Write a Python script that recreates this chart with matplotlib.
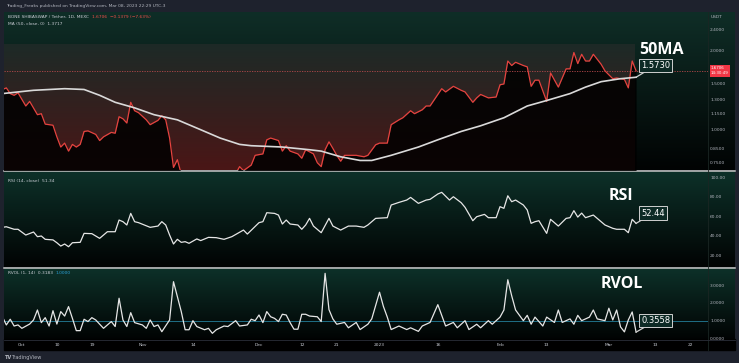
import numpy as np
import pandas as pd
import matplotlib
matplotlib.use("Agg")
import matplotlib.pyplot as plt
from matplotlib.colors import LinearSegmentedColormap
from matplotlib.patches import Rectangle
from matplotlib.ticker import NullLocator

W, H = 739, 363
base = pd.Timestamp("2022-10-01")

# price (close), day offsets from 2022-10-01
price_day = [-5, -4, -3, -2, -1, 1, 2, 4, 5, 6, 8, 9, 10, 11, 12, 13, 14, 15, 16, 17,
             19, 20, 21, 23, 24, 25, 26, 27, 28, 29, 30, 32, 33, 35, 36, 37, 38, 39, 40, 41,
             43, 46, 49, 52, 54, 56, 57, 59, 60, 62, 63, 64, 66, 67, 68, 69, 71, 72, 73, 75,
             76, 77, 78, 79, 80, 81, 82, 83, 85, 86, 88, 89, 91, 92, 94, 95, 97, 98, 100, 101,
             103, 104, 105, 107, 108, 109, 111, 113, 114, 116, 117, 118, 120, 122, 123, 124,
             125, 126, 127, 129, 130, 131, 132, 133, 135, 136, 138, 140, 141, 142, 143, 144,
             145, 146, 147, 149, 150, 152, 153, 155, 156, 157, 158]
price = [1.42, 1.44, 1.37, 1.35, 1.38, 1.23, 1.28, 1.14, 1.15, 1.05, 1.04, 0.94, 0.86, 0.89,
         0.83, 0.88, 0.86, 0.88, 0.985, 0.99, 0.96, 0.91, 0.94, 0.977, 0.97, 1.12, 1.10, 1.06,
         1.27, 1.18, 1.16, 1.09, 1.045, 1.085, 1.13, 1.09, 0.93, 0.72, 0.77, 0.68, 0.63, 0.60,
         0.62, 0.58, 0.64, 0.725, 0.70, 0.735, 0.80, 0.81, 0.916, 0.93, 0.91, 0.83, 0.87, 0.83,
         0.81, 0.78, 0.84, 0.81, 0.75, 0.725, 0.84, 0.90, 0.85, 0.80, 0.76, 0.80, 0.80, 0.80,
         0.79, 0.80, 0.877, 0.89, 0.89, 1.045, 1.09, 1.11, 1.18, 1.15, 1.19, 1.23, 1.23, 1.36,
         1.43, 1.39, 1.46, 1.41, 1.39, 1.27, 1.32, 1.36, 1.32, 1.33, 1.48, 1.49, 1.82, 1.75,
         1.80, 1.75, 1.73, 1.46, 1.54, 1.54, 1.28, 1.64, 1.45, 1.70, 1.70, 1.96, 1.78, 1.93,
         1.82, 1.82, 1.93, 1.77, 1.67, 1.56, 1.57, 1.55, 1.44, 1.82, 1.6706]

# 50 day moving average
ma_day = [-5, -1, 3, 11, 16, 20, 24, 29, 34, 40, 46, 51, 56, 59, 67, 74, 77, 82, 87, 90,
          95, 102, 107, 113, 118, 124, 130, 135, 141, 145, 149, 154, 158]
ma50 = [1.37, 1.39, 1.41, 1.43, 1.42, 1.35, 1.27, 1.21, 1.14, 1.09, 1.00, 0.93, 0.88, 0.87,
        0.86, 0.84, 0.83, 0.79, 0.765, 0.765, 0.80, 0.86, 0.916, 0.985, 1.035, 1.11, 1.23,
        1.29, 1.37, 1.45, 1.52, 1.56, 1.58]

# RSI (14)
rsi_day = [-5, -4, -2, -1, 1, 3, 4, 5, 6, 8, 9, 10, 11, 12, 13, 15, 16, 18, 20, 22, 24, 25,
           26, 27, 28, 29, 30, 33, 35, 36, 37, 38, 39, 40, 41, 42, 43, 45, 46, 48, 50, 52, 54,
           57, 58, 61, 62, 63, 65, 66, 67, 68, 69, 71, 72, 73, 74, 75, 77, 79, 80, 82, 84, 86,
           88, 89, 91, 94, 95, 97, 99, 100, 102, 104, 105, 107, 108, 110, 111, 113, 114, 116,
           117, 119, 120, 122, 123, 124, 125, 126, 127, 129, 130, 131, 132, 133, 135, 136, 138,
           140, 141, 142, 143, 144, 145, 147, 149, 150, 152, 153, 155, 156, 157, 158]
rsi = [48.4, 49, 46.4, 46.4, 40.5, 43.6, 38.8, 39.5, 36.1, 35.5, 32.6, 29.2, 31.3, 28.5, 32.6,
       33, 42.2, 41.9, 37.1, 43.9, 43.9, 55.9, 54.2, 50.8, 62.7, 54.2, 53.2, 48.4, 49.7, 54.2,
       50.8, 40.5, 31.3, 36.1, 33, 33.7, 32, 36.5, 34.8, 38.1, 37.8, 36.1, 38.8, 45.6, 41.5,
       53.2, 54.2, 63.4, 62.7, 61, 51.8, 55.9, 51.8, 50.8, 46.4, 50.8, 57.6, 49.7, 42.9, 57.6,
       49.7, 45.6, 49.7, 49.7, 48.4, 50.8, 57.6, 58.3, 71.3, 74, 76.4, 79.1, 73, 76.4, 77.1,
       82.6, 84.3, 76.4, 79.8, 73.7, 68.9, 55.2, 59.3, 61.7, 58.3, 58.3, 69.6, 67.9, 80.8,
       74.7, 76.4, 71.3, 66.2, 52.5, 54.2, 55.2, 42.2, 56.6, 49.7, 57.6, 58.3, 65.5, 58.9, 63,
       58.3, 61, 54.2, 50.8, 47.4, 46.4, 46.4, 42.9, 56.6, 52.44]

# relative volume
rvol_day = [-5, -4, -3, -2, -1, 0, 2, 3, 4, 5, 6, 7, 8, 9, 10, 11, 12, 13, 14, 15, 16, 17, 18,
            19, 21, 23, 24, 25, 26, 27, 28, 29, 31, 32, 33, 34, 35, 36, 38, 39, 40, 41, 42, 43,
            44, 45, 47, 48, 49, 50, 52, 53, 55, 56, 58, 59, 60, 61, 62, 63, 64, 65, 66, 67, 68,
            69, 70, 71, 72, 73, 74, 76, 77, 78, 79, 80, 81, 83, 84, 86, 87, 89, 90, 92, 93, 94,
            95, 97, 99, 100, 102, 103, 105, 107, 108, 109, 111, 112, 114, 115, 117, 118, 120,
            121, 123, 124, 125, 126, 127, 129, 130, 131, 132, 134, 135, 137, 138, 139, 141,
            142, 143, 144, 146, 147, 148, 150, 151, 152, 153, 154, 155, 156, 157, 158]
rvol = [1.22, 0.76, 1.08, 0.70, 0.76, 0.57, 0.81, 1.04, 1.60, 0.89, 1.17, 0.70, 1.56, 0.81,
        1.51, 1.26, 1.79, 1.13, 0.44, 0.44, 1.08, 0.95, 1.17, 1.04, 0.57, 0.95, 0.67, 2.26,
        1.04, 0.67, 1.45, 0.89, 0.76, 0.57, 1.04, 0.67, 0.76, 0.38, 1.04, 3.19, 2.35, 1.51,
        0.49, 0.49, 1.0, 0.67, 0.49, 0.57, 0.29, 0.49, 0.70, 0.67, 1.0, 0.70, 0.76, 1.08, 1.0,
        1.32, 0.89, 1.51, 1.22, 1.13, 0.95, 1.36, 1.32, 0.89, 0.52, 0.52, 1.36, 1.36, 1.26,
        1.22, 0.95, 3.66, 1.62, 1.1, 0.8, 0.9, 0.6, 0.9, 0.5, 0.8, 1.1, 2.6, 1.8, 1.2, 0.5,
        0.7, 0.5, 0.6, 0.4, 0.7, 0.9, 1.9, 1.3, 0.7, 0.9, 0.6, 1.0, 0.5, 0.8, 0.6, 1.0, 0.8,
        1.2, 1.6, 3.3, 2.4, 1.6, 1.0, 1.3, 0.8, 1.2, 0.7, 1.2, 0.9, 1.6, 0.9, 1.1, 0.8, 1.3,
        1.0, 1.2, 1.6, 1.1, 1.0, 1.7, 1.04, 1.6, 0.65, 0.37, 1.04, 1.49, 0.3558]

price_ticks = [0.75, 0.85, 1.0, 1.15, 1.3, 1.5, 2.0, 2.4]
rsi_ticks = [20, 40, 60, 80, 100]
rvol_ticks = [0, 1, 2, 3]
time_ticks = ["2022-10-01", "2022-10-10", "2022-10-19", "2022-11-01", "2022-11-14",
              "2022-12-01", "2022-12-12", "2022-12-21", "2023-01-01", "2023-01-16",
              "2023-02-01", "2023-02-13", "2023-03-01", "2023-03-13", "2023-03-22"]
time_labels = ["Oct", "10", "19", "Nov", "14", "Dec", "12", "21", "2023", "16",
               "Feb", "13", "Mar", "13", "22"]

TXT = "#c9ccd4"


def days(d):
    return base + pd.to_timedelta(d, unit="D")


def rect(x0, y0, x1, y1):
    return [x0 / W, 1 - y1 / H, (x1 - x0) / W, (y1 - y0) / H]


fig = plt.figure(figsize=(W / 100, H / 100), dpi=100, facecolor="#1e222d")

# background layer in pixel coordinates
bg = fig.add_axes([0, 0, 1, 1])
bg.set_axis_off()


def gradient(x0, x1, y0, y1, top, bottom):
    cmap = LinearSegmentedColormap.from_list("g", [top, bottom])
    bg.imshow(np.linspace(0, 1, 200)[:, None], cmap=cmap, aspect="auto",
              extent=(x0, x1, y1, y0), interpolation="bilinear", zorder=0)


gradient(4, 735, 12, 170, "#0f2e27", "#010303")
gradient(4, 635, 44, 170, "#1d2a27", "#4a1616")
gradient(4, 735, 171, 267, "#0d3129", "#010303")
gradient(4, 735, 268, 339, "#0d3129", "#010303")
bg.add_patch(Rectangle((4, 339), 731, 11, color="#000000", zorder=1))
bg.plot([4, 735], [170.5, 170.5], color="#c8c8c8", lw=1.1, zorder=2)
bg.plot([4, 735], [267.5, 267.5], color="#c8c8c8", lw=1.1, zorder=2)
bg.plot([708, 708], [12, 350], color="#1a2623", lw=0.6, zorder=2)
bg.plot([4, 735], [339.5, 339.5], color="#2a2e39", lw=0.6, zorder=2)

small = dict(fontsize=3.2, va="center")
bg.text(6, 6, "Trading_Freaks published on TradingView.com, Mar 08, 2023 22:29 UTC-3",
        color="#b2b5be", **small)
bg.text(8, 17, "BONE SHIBASWAP / Tether, 1D, MEXC", color=TXT, **small)
bg.text(92, 17, "1.6706  \u22120.1379 (\u22127.63%)", color="#f0504a", **small)
bg.text(8, 24, "MA (50, close, 0)  1.3717", color=TXT, **small)
bg.text(8, 181.5, "RSI (14, close)  51.34", color=TXT, **small)
bg.text(8, 272.5, "RVOL (1, 14)  0.3183", color=TXT, **small)
bg.text(56, 272.5, "1.0000", color="#2a9fd6", **small)
bg.text(711, 17, "USDT", color="#b2b5be", **small)
bg.text(5, 357.5, "TV", fontsize=3.6, color="#b2b5be", va="center", weight="bold")
bg.text(11, 357.5, "TradingView", fontsize=3.6, color="#b2b5be", va="center")

big = dict(fontsize=11.5, color="white", weight="bold", family=["Open Sans", "DejaVu Sans"],
           va="center", ha="left")
bg.text(639, 49.5, "50MA", **big)
bg.text(609, 196.5, "RSI", **big)
bg.text(601, 283.5, "RVOL", **big)

bg.set_xlim(0, W)
bg.set_ylim(H, 0)

xlim = (days(-4.6), days(176.5))


def panel(y0, y1):
    ax = fig.add_axes(rect(4, y0, 708, y1))
    ax.patch.set_alpha(0)
    for s in ax.spines.values():
        s.set_visible(False)
    ax.set_xlim(*xlim)
    ax.yaxis.tick_right()
    ax.tick_params(axis="y", length=0, pad=1.5, labelsize=3.2, labelcolor="#b2b5be")
    ax.tick_params(axis="x", length=0)
    return ax


box = dict(boxstyle="square,pad=0.25", fc="#0d2a25", ec="#d0d0d0", lw=0.7)
arrow = dict(arrowstyle="-", color="#d0d0d0", lw=0.9, shrinkA=0, shrinkB=0)

# price panel
ax_p = panel(12, 170)
ax_p.set_yscale("log")
ax_p.set_ylim(0.704, 2.79)
ax_p.set_yticks(price_ticks)
ax_p.set_yticklabels([f"{v:.4f}" for v in price_ticks])
ax_p.yaxis.set_minor_locator(NullLocator())
ax_p.set_xticks([])
dp = days(price_day)
ax_p.fill_between(dp, price, 0.3, color="#000000", alpha=0.86, lw=0, zorder=1)
ax_p.axhline(price[-1], color="#b54a4a", lw=0.6, ls=(0, (1.5, 1.5)), zorder=2)
ax_p.plot(dp, price, color="#e5433f", lw=0.9, zorder=3)
dm = days(ma_day)
ax_p.plot(dm, ma50, color="#d9d9d9", lw=1.2, zorder=4)
ax_p.annotate("1.5730", xy=(dm[-1], ma50[-1]), xytext=(3.7, 5.4), textcoords="offset points",
              ha="left", va="bottom", fontsize=6, color="white", bbox=box, arrowprops=arrow,
              zorder=6)
ax_p.annotate(f"{price[-1]:.4f}\n14:30:49", xy=(1.0, price[-1]), xycoords=("axes fraction", "data"),
              xytext=(2.2, 0), textcoords="offset points", ha="left", va="center",
              fontsize=2.9, color="white", linespacing=1.3,
              bbox=dict(boxstyle="square,pad=0.35", fc="#f23645", ec="none"),
              annotation_clip=False, zorder=6)

# RSI panel
ax_r = panel(171, 267)
ax_r.set_ylim(7.7, 106.2)
ax_r.set_yticks(rsi_ticks)
ax_r.set_yticklabels([f"{v:.2f}" for v in rsi_ticks])
ax_r.set_xticks([])
dr = days(rsi_day)
ax_r.plot(dr, rsi, color="#e6e6e6", lw=0.9)
ax_r.annotate(f"{rsi[-1]:.2f}", xy=(dr[-1], rsi[-1]), xytext=(3.7, 4.2), textcoords="offset points",
              ha="left", va="bottom", fontsize=6, color="white", bbox=box, arrowprops=arrow)

# RVOL panel
ax_v = panel(268, 339)
ax_v.set_ylim(-0.03, 3.96)
ax_v.set_yticks(rvol_ticks)
ax_v.set_yticklabels([f"{v:.4f}" for v in rvol_ticks])
dv = days(rvol_day)
ax_v.axhline(1.0, color="#1f6e86", lw=0.7)
ax_v.plot(dv, rvol, color="#e6e6e6", lw=0.9)
ax_v.annotate(f"{rvol[-1]:.4f}", xy=(dv[-1], rvol[-1]), xytext=(3.7, 5.0), textcoords="offset points",
              ha="left", va="bottom", fontsize=6, color="white", bbox=box, arrowprops=arrow)
ax_v.set_xticks(pd.to_datetime(time_ticks))
ax_v.set_xticklabels(time_labels)
ax_v.tick_params(axis="x", length=0, pad=2.7, labelsize=3.2, labelcolor=TXT)

fig.savefig("out.png", dpi=100, facecolor=fig.get_facecolor())
